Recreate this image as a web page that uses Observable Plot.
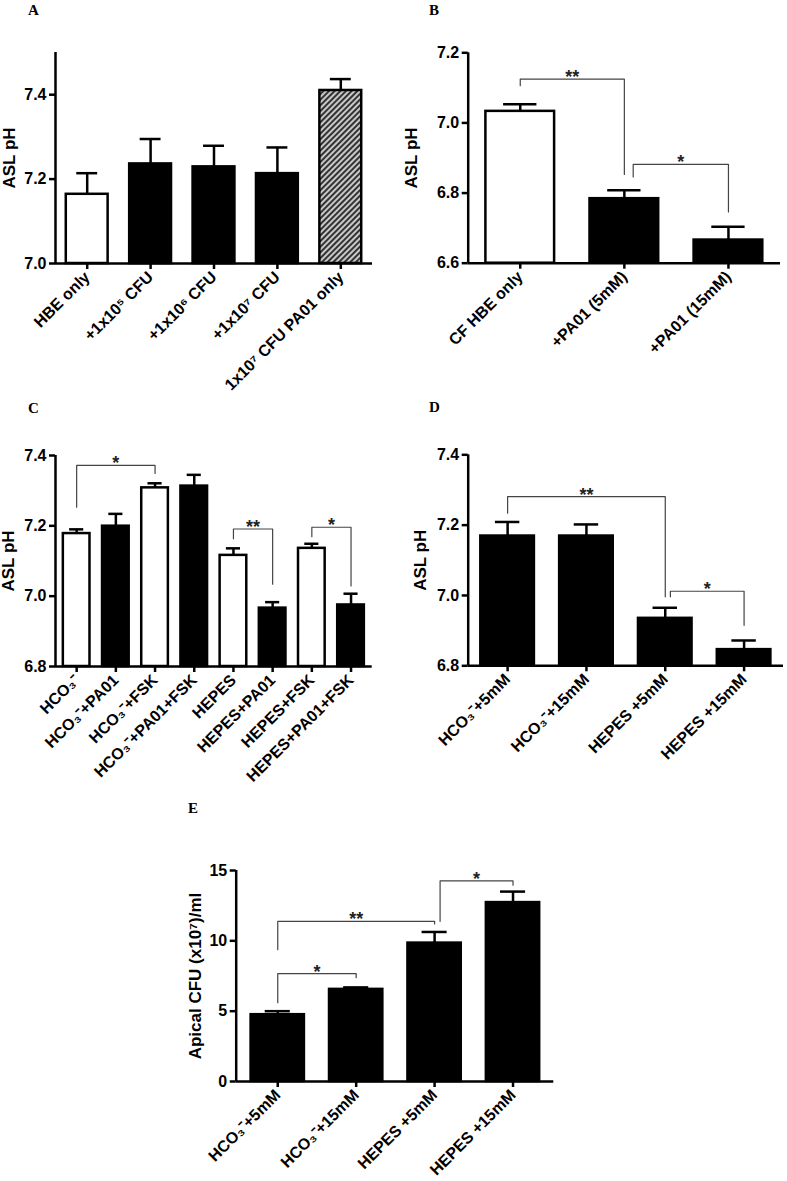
<!DOCTYPE html>
<html>
<head>
<meta charset="utf-8">
<script src="https://cdn.jsdelivr.net/npm/d3@7"></script>
<script src="https://cdn.jsdelivr.net/npm/@observablehq/plot@0.6"></script>
<style>
  body { margin: 0; background: #fff; }
  #fig { position: relative; width: 787px; height: 1181px; background: #fff; overflow: hidden; }
  .panel { position: absolute; }
  .letter { position: absolute; font-family: "Liberation Serif", "Times New Roman", serif; font-weight: bold; font-size: 15px; line-height: 1; color: #000; }
</style>
</head>
<body>
<div id="fig"></div>
<script>
// ---------- Panel A ----------
const catsA = ["HBE only", "+1x10⁵ CFU", "+1x10⁶ CFU", "+1x10⁷ CFU", "1x10⁷ CFU PA01 only"];
const meanA = [7.164, 7.236, 7.229, 7.213, 7.410];
const semA  = [0.050, 0.059, 0.050, 0.062, 0.027];
const ticksA = [7.0, 7.2, 7.4];
const bracketA = [];

// ---------- Panel B ----------
const catsB = ["CF HBE only", "+PA01 (5mM)", "+PA01 (15mM)"];
const meanB = [7.033, 6.784, 6.666];
const semB  = [0.020, 0.024, 0.038];
const ticksB = [6.6, 6.8, 7.0, 7.2];
const bracketB = [
  {a: 0, b: 1, y: 7.125, ya: 7.106, yb: 6.853, label: "**"},
  {a: 1.085, b: 2, y: 6.882, ya: 6.846, yb: 6.746, label: "*"}
];

// ---------- Panel C ----------
const catsC = ["HCO₃⁻", "HCO₃⁻+PA01", "HCO₃⁻+FSK", "HCO₃⁻+PA01+FSK", "HEPES", "HEPES+PA01", "HEPES+FSK", "HEPES+PA01+FSK"];
const meanC = [7.178, 7.199, 7.308, 7.313, 7.116, 6.966, 7.136, 6.975];
const semC  = [0.012, 0.035, 0.013, 0.032, 0.020, 0.017, 0.013, 0.032];
const ticksC = [6.8, 7.0, 7.2, 7.4];
const bracketC = [
  {a: 0, b: 2, y: 7.372, ya: 7.253, yb: 7.349, label: "*"},
  {a: 4, b: 5, y: 7.191, ya: 7.163, yb: 7.034, label: "**"},
  {a: 6, b: 7, y: 7.196, ya: 7.169, yb: 7.029, label: "*"}
];

// ---------- Panel D ----------
const catsD = ["HCO₃⁻+5mM", "HCO₃⁻+15mM", "HEPES +5mM", "HEPES +15mM"];
const meanD = [7.169, 7.169, 6.935, 6.846];
const semD  = [0.040, 0.033, 0.030, 0.026];
const ticksD = [6.8, 7.0, 7.2, 7.4];
const bracketD = [
  {a: 0, b: 2, y: 7.281, ya: 7.234, yb: 6.996, label: "**"},
  {a: 2.065, b: 3, y: 7.012, ya: 6.996, yb: 6.915, label: "*"}
];

// ---------- Panel E ----------
const catsE = ["HCO₃⁻+5mM", "HCO₃⁻+15mM", "HEPES +5mM", "HEPES +15mM"];
const meanE = [4.75, 6.55, 9.84, 12.72];
const semE  = [0.25, 0.14, 0.79, 0.78];
const ticksE = [0, 5, 10, 15];
const bracketE = [
  {a: 0, b: 1, y: 7.67, ya: 5.60, yb: 7.38, label: "*"},
  {a: 0, b: 2, y: 11.39, ya: 9.37, yb: 11.2, label: "**"},
  {a: 2.07, b: 3, y: 14.26, ya: 11.39, yb: 13.95, label: "*"}
];

// ---------- styles (kept apart from data) ----------
const fillsA = ["white", "black", "black", "black", "url(#hatchA)"];
const fillsB = ["white", "black", "black"];
const fillsC = ["white", "black", "white", "black", "white", "black", "white", "black"];
const fillsD = ["black", "black", "black", "black"];
const fillsE = ["black", "black", "black", "black"];

const FONT = 'Arimo, "Liberation Sans", Arial, Helvetica, sans-serif';

function makePanel(o) {
  const rows = o.cats.map((c, i) => ({i, mean: o.means[i], top: o.means[i] + o.sems[i], fill: o.fills[i]}));
  const base = o.yDomain[0];
  const pts = o.brackets.flatMap((b, k) => [
    {id: k, x: b.a, y: b.ya}, {id: k, x: b.a, y: b.y}, {id: k, x: b.b, y: b.y}, {id: k, x: b.b, y: b.yb}
  ]);
  const svg = Plot.plot({
    width: o.width, height: o.height,
    marginLeft: o.m[3], marginRight: o.m[1], marginTop: o.m[0], marginBottom: o.m[2],
    x: {domain: o.xDomain, axis: null},
    y: {domain: o.yDomain, axis: null},
    color: {type: "identity"},
    style: {fontFamily: FONT, fontSize: "16px", color: "black", background: "transparent", overflow: "visible"},
    marks: [
      Plot.rect(rows, {x1: d => d.i - o.half, x2: d => d.i + o.half, y1: base, y2: "mean", fill: "fill", stroke: "black", strokeWidth: 2.5}),
      Plot.ruleX(rows, {x: "i", y1: "mean", y2: "top", stroke: "black", strokeWidth: 2.5}),
      Plot.ruleY(rows, {y: "top", x1: d => d.i - o.cap, x2: d => d.i + o.cap, stroke: "black", strokeWidth: 2.5}),
      Plot.line(pts, {x: "x", y: "y", z: "id", stroke: "#444", strokeWidth: 1.2}),
      Plot.text(o.brackets, {x: d => (d.a + d.b) / 2, y: "y", text: "label", lineAnchor: "bottom", dy: 4, fontSize: 18, fontWeight: "bold", fill: "#222"}),
      Plot.ruleX([o.xDomain[0]], {stroke: "black", strokeWidth: 2.5}),
      Plot.ruleY([base], {stroke: "black", strokeWidth: 2.5}),
      Plot.axisY({ticks: o.yTicks, tickFormat: o.yFmt, tickSize: 6, tickPadding: 3, fontSize: 16, fontWeight: "bold", strokeWidth: 2.5, label: null}),
      Plot.axisX({ticks: d3.range(o.cats.length), tickFormat: i => o.cats[i], tickRotate: -45, tickSize: 6, tickPadding: 5, fontSize: 16, fontWeight: "bold", strokeWidth: 2.5, label: null}),
      Plot.text([o.yLabel], {frameAnchor: "left", text: d => d, rotate: -90, textAnchor: "middle", dx: o.yLabelDx, fontSize: 17, fontWeight: "bold"})
    ]
  });
  return svg;
}

const fig = document.getElementById("fig");
function place(el, left, top) {
  const wrap = document.createElement("div");
  wrap.className = "panel";
  wrap.style.left = left + "px";
  wrap.style.top = top + "px";
  wrap.appendChild(el);
  fig.appendChild(wrap);
  return el;
}
function letter(t, left, top) {
  const d = document.createElement("div");
  d.className = "letter";
  d.textContent = t;
  d.style.left = left + "px";
  d.style.top = top + "px";
  fig.appendChild(d);
}

const f1 = d3.format(".1f"), f0 = d3.format("d");

const svgA = makePanel({cats: catsA, means: meanA, sems: semA, fills: fillsA, brackets: bracketA,
  xDomain: [-0.5, 4.5], yDomain: [7.0, 7.5], yTicks: ticksA, yFmt: f1, half: 0.33, cap: 0.165,
  width: 390, height: 395, m: [52, 18, 132, 55], yLabel: "ASL pH", yLabelDx: -46});
// hatch pattern for the last bar
const defs = d3.select(svgA).insert("defs", ":first-child");
const pat = defs.append("pattern").attr("id", "hatchA").attr("patternUnits", "userSpaceOnUse")
  .attr("width", 4).attr("height", 4).attr("patternTransform", "rotate(45)");
pat.append("rect").attr("width", 4).attr("height", 4).attr("fill", "#c8c8c8");
pat.append("line").attr("x1", 1).attr("y1", 0).attr("x2", 1).attr("y2", 4).attr("stroke", "#333").attr("stroke-width", 2);
place(svgA, 0, 0);

place(makePanel({cats: catsB, means: meanB, sems: semB, fills: fillsB, brackets: bracketB,
  xDomain: [-0.5, 2.5], yDomain: [6.6, 7.2], yTicks: ticksB, yFmt: f1, half: 0.33, cap: 0.16,
  width: 387, height: 395, m: [52.3, 7, 132.3, 67.7], yLabel: "ASL pH", yLabelDx: -56.7}), 400, 0);

place(makePanel({cats: catsC, means: meanC, sems: semC, fills: fillsC, brackets: bracketC,
  xDomain: [-0.54, 7.54], yDomain: [6.8, 7.4], yTicks: ticksC, yFmt: f1, half: 0.34, cap: 0.18,
  width: 390, height: 420, m: [75, 18.3, 134, 55], yLabel: "ASL pH", yLabelDx: -47}), 0, 380);

place(makePanel({cats: catsD, means: meanD, sems: semD, fills: fillsD, brackets: bracketD,
  xDomain: [-0.5, 3.5], yDomain: [6.8, 7.4], yTicks: ticksD, yFmt: f1, half: 0.34, cap: 0.155,
  width: 387, height: 420, m: [74.3, 4, 134.7, 67.7], yLabel: "ASL pH", yLabelDx: -47.7}), 400, 380);

place(makePanel({cats: catsE, means: meanE, sems: semE, fills: fillsE, brackets: bracketE,
  xDomain: [-0.53, 3.52], yDomain: [0, 15], yTicks: ticksE, yFmt: f0, half: 0.34, cap: 0.16,
  width: 420, height: 361, m: [50, 16.7, 100, 85.7], yLabel: "Apical CFU (x10⁷)/ml", yLabelDx: -41}), 150, 820);

letter("A", 28, 3);
letter("B", 429, 3);
letter("C", 28, 401);
letter("D", 429, 400);
letter("E", 188, 801);
</script>
</body>
</html>
